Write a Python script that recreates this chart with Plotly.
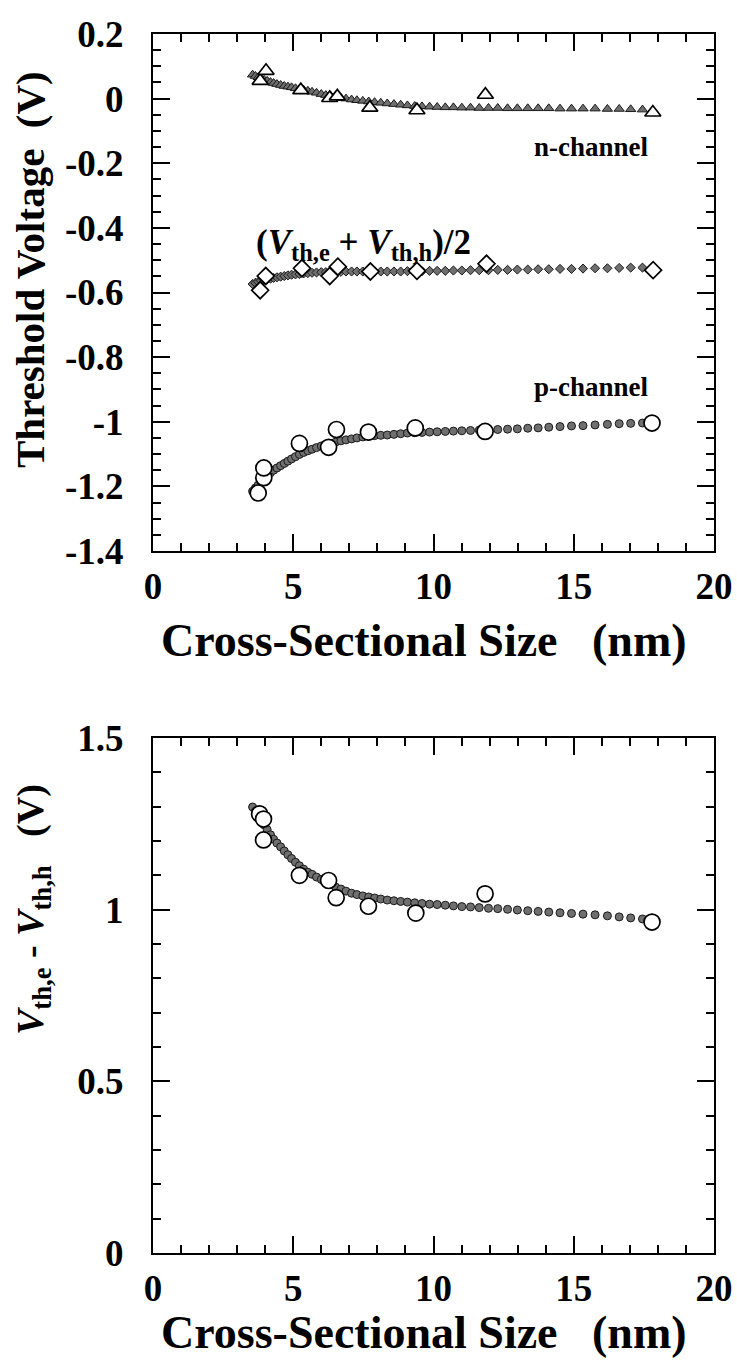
import plotly.graph_objects as go

# ---------------- data ----------------
x_calc = [3.55, 3.65, 3.75, 3.85, 3.96, 4.07, 4.19, 4.30, 4.42, 4.55, 4.68, 4.81, 4.94, 5.08,
          5.22, 5.37, 5.52, 5.67, 5.83, 6.00, 6.16, 6.34, 6.51, 6.70, 6.88, 7.08, 7.27, 7.48,
          7.69, 7.90, 8.12, 8.35, 8.59, 8.83, 9.07, 9.33, 9.59, 9.86, 10.13, 10.42, 10.71, 11.01,
          11.32, 11.63, 11.96, 12.29, 12.64, 12.99, 13.36, 13.73, 14.11, 14.51, 14.92, 15.33,
          15.76, 16.20, 16.62, 17.03, 17.45]

n_calc = [0.074, 0.070, 0.066, 0.062, 0.058, 0.055, 0.051, 0.048, 0.045, 0.042, 0.039, 0.037,
          0.035, 0.032, 0.030, 0.027, 0.024, 0.021, 0.018, 0.014, 0.011, 0.008, 0.005, 0.002,
          0.000, -0.003, -0.005, -0.007, -0.009, -0.011, -0.013, -0.015, -0.017, -0.019, -0.021,
          -0.023, -0.024, -0.025, -0.026, -0.027, -0.027, -0.028, -0.028, -0.029, -0.029, -0.029,
          -0.030, -0.030, -0.030, -0.030, -0.030, -0.031, -0.031, -0.031, -0.031, -0.032, -0.032,
          -0.033, -0.034]

mid_calc = [-0.574, -0.570, -0.567, -0.564, -0.561, -0.559, -0.557, -0.555, -0.553, -0.551,
            -0.549, -0.547, -0.545, -0.544, -0.543, -0.541, -0.540, -0.539, -0.538, -0.537,
            -0.537, -0.536, -0.536, -0.536, -0.535, -0.535, -0.535, -0.535, -0.535, -0.535,
            -0.535, -0.535, -0.535, -0.535, -0.534, -0.534, -0.534, -0.533, -0.533, -0.533,
            -0.532, -0.532, -0.531, -0.531, -0.531, -0.530, -0.530, -0.529, -0.529, -0.528,
            -0.528, -0.527, -0.527, -0.526, -0.525, -0.525, -0.524, -0.523, -0.523]

p_calc = [-1.215, -1.205, -1.196, -1.185, -1.175, -1.166, -1.158, -1.150, -1.143, -1.136,
          -1.129, -1.122, -1.115, -1.108, -1.101, -1.095, -1.090, -1.085, -1.080, -1.075,
          -1.071, -1.067, -1.063, -1.059, -1.056, -1.053, -1.050, -1.047, -1.045, -1.043,
          -1.042, -1.041, -1.039, -1.037, -1.035, -1.034, -1.033, -1.032, -1.031, -1.030,
          -1.029, -1.028, -1.027, -1.026, -1.025, -1.024, -1.023, -1.022, -1.020, -1.019,
          -1.017, -1.015, -1.013, -1.012, -1.010, -1.008, -1.006, -1.005, -1.004]

diff_calc = [1.299, 1.286, 1.273, 1.260, 1.247, 1.233, 1.218, 1.205, 1.194, 1.183, 1.171,
             1.160, 1.149, 1.138, 1.128, 1.118, 1.109, 1.103, 1.095, 1.088, 1.081, 1.074,
             1.066, 1.060, 1.054, 1.048, 1.044, 1.040, 1.037, 1.034, 1.031, 1.028, 1.026,
             1.024, 1.022, 1.020, 1.018, 1.016, 1.015, 1.013, 1.011, 1.009, 1.008, 1.006,
             1.004, 1.003, 1.001, 0.999, 0.997, 0.995, 0.993, 0.991, 0.989, 0.987, 0.985,
             0.982, 0.979, 0.976, 0.973]

n_open_x = [3.82, 4.03, 5.27, 6.30, 6.57, 7.73, 9.41, 11.85, 17.82]
n_open_y = [0.055, 0.086, 0.026, 0.002, 0.007, -0.028, -0.036, 0.012, -0.043]

mid_open_x = [3.82, 4.02, 5.31, 6.30, 6.59, 7.75, 9.41, 11.89, 17.83]
mid_open_y = [-0.593, -0.549, -0.525, -0.549, -0.520, -0.535, -0.533, -0.511, -0.531]

p_open_x = [3.75, 3.95, 3.95, 5.22, 6.26, 6.54, 7.68, 9.35, 11.84, 17.79]
p_open_y = [-1.2205, -1.173, -1.143, -1.067, -1.079, -1.024, -1.032, -1.019, -1.030, -1.004]

diff_open_x = [3.80, 3.94, 3.94, 5.22, 6.26, 6.53, 7.68, 9.37, 11.84, 17.79]
diff_open_y = [1.279, 1.264, 1.203, 1.10, 1.085, 1.035, 1.010, 0.990, 1.046, 0.964]

x_tickvals = [0, 5, 10, 15, 20]
x_ticktext = ["0", "5", "10", "15", "20"]
top_tickvals = [0.2, 0, -0.2, -0.4, -0.6, -0.8, -1.0, -1.2, -1.4]
top_ticktext = ["0.2", "0", "-0.2", "-0.4", "-0.6", "-0.8", "-1", "-1.2", "-1.4"]
bot_tickvals = [0, 0.5, 1.0, 1.5]
bot_ticktext = ["0", "0.5", "1", "1.5"]

# ---------------- styling ----------------
FONT = "Liberation Serif, Times New Roman, serif"
GRAY = "#6f6f6f"
W, H = 737, 1365

fig = go.Figure()

def filled(x, y, sym, size, xa, ya):
    fig.add_trace(go.Scatter(x=x, y=y, mode="markers", xaxis=xa, yaxis=ya, showlegend=False,
                             cliponaxis=False,
                             marker=dict(symbol=sym, size=size, color=GRAY,
                                         line=dict(color="#1a1a1a", width=1))))

def opened(x, y, sym, size, xa, ya):
    fig.add_trace(go.Scatter(x=x, y=y, mode="markers", xaxis=xa, yaxis=ya, showlegend=False,
                             cliponaxis=False,
                             marker=dict(symbol=sym, size=size, color="white",
                                         line=dict(color="black", width=1.7))))

filled(x_calc, n_calc, "triangle-up", 9, "x", "y")
filled(x_calc, mid_calc, "diamond", 7, "x", "y")
filled(x_calc, p_calc, "circle", 8, "x", "y")
opened(n_open_x, n_open_y, "triangle-up", 14, "x", "y")
opened(mid_open_x, mid_open_y, "diamond", 13, "x", "y")
opened(p_open_x, p_open_y, "circle", 16, "x", "y")

filled(x_calc, diff_calc, "circle", 8, "x2", "y2")
opened(diff_open_x, diff_open_y, "circle", 16, "x2", "y2")

tickfont = dict(family=FONT, size=37, color="black", weight="bold")

def xaxis(domain, anchor):
    return dict(domain=domain, anchor=anchor, range=[0, 20], tickmode="array",
                tickvals=x_tickvals, ticktext=x_ticktext, ticks="inside", ticklen=17,
                tickwidth=1.5, tickcolor="black", showline=True, linecolor="black",
                linewidth=2, mirror="allticks", showgrid=False, zeroline=False,
                tickfont=tickfont, ticklabelstandoff=2, automargin=False,
                minor=dict(dtick=1, tick0=0, ticks="inside", ticklen=8, tickwidth=1.5,
                           tickcolor="black", showgrid=False))

def yaxis(domain, anchor, rng, tv, tt, mdt):
    return dict(domain=domain, anchor=anchor, range=rng, tickmode="array",
                tickvals=tv, ticktext=tt, ticks="inside", ticklen=17,
                tickwidth=1.5, tickcolor="black", showline=True, linecolor="black",
                linewidth=2, mirror="allticks", showgrid=False, zeroline=False,
                tickfont=tickfont, ticklabelstandoff=20, automargin=False,
                minor=dict(dtick=mdt, tick0=0, ticks="inside", ticklen=8, tickwidth=1.5,
                           tickcolor="black", showgrid=False))

xd = [153 / W, 714 / W]
fig.update_layout(
    template="none",
    width=W, height=H, autosize=False,
    margin=dict(l=0, r=0, t=0, b=0, pad=0),
    paper_bgcolor="white", plot_bgcolor="white",
    xaxis=xaxis(xd, "y"),
    yaxis=yaxis([1 - 551 / H, 1 - 34 / H], "x", [-1.4, 0.2], top_tickvals, top_ticktext, 0.05),
    xaxis2=xaxis(xd, "y2"),
    yaxis2=yaxis([1 - 1253 / H, 1 - 738 / H], "x2", [0, 1.5], bot_tickvals, bot_ticktext, 0.1),
)

lab = dict(family=FONT, size=27, color="black", weight="bold")
lab_mid = dict(family=FONT, size=35, color="black", weight="bold")
sp = "\u00a0"

fig.add_annotation(x=17.75, y=-0.150, xref="x", yref="y", text="n-channel", showarrow=False,
                   xanchor="right", yanchor="middle", font=lab)
fig.add_annotation(x=17.75, y=-0.893, xref="x", yref="y", text="p-channel", showarrow=False,
                   xanchor="right", yanchor="middle", font=lab)
fig.add_annotation(x=3.6, y=-0.45, xref="x", yref="y",
                   text="(<i>V</i><sub>th,e</sub> + <i>V</i><sub>th,h</sub>)/2",
                   showarrow=False, xanchor="left", yanchor="middle", font=lab_mid)

xt_font = dict(family=FONT, size=46, color="black", weight="bold")
fig.add_annotation(x=0.575, y=1 - 640 / H, xref="paper", yref="paper",
                   text="Cross-Sectional Size" + sp * 3 + "(nm)", showarrow=False,
                   xanchor="center", yanchor="middle", font=xt_font)
fig.add_annotation(x=0.575, y=1 - 1332 / H, xref="paper", yref="paper",
                   text="Cross-Sectional Size" + sp * 3 + "(nm)", showarrow=False,
                   xanchor="center", yanchor="middle", font=xt_font)
fig.add_annotation(x=30 / W, y=1 - 270 / H, xref="paper", yref="paper",
                   text="Threshold Voltage" + sp * 2 + "(V)", showarrow=False, textangle=-90,
                   xanchor="center", yanchor="middle",
                   font=dict(family=FONT, size=41, color="black", weight="bold"))
fig.add_annotation(x=33 / W, y=1 - 910 / H, xref="paper", yref="paper",
                   text="<i>V</i><sub>th,e</sub> - <i>V</i><sub>th,h</sub>" + sp * 3 + "(V)",
                   showarrow=False, textangle=-90,
                   xanchor="center", yanchor="middle",
                   font=dict(family=FONT, size=38, color="black", weight="bold"))

fig.write_html("out.html")
